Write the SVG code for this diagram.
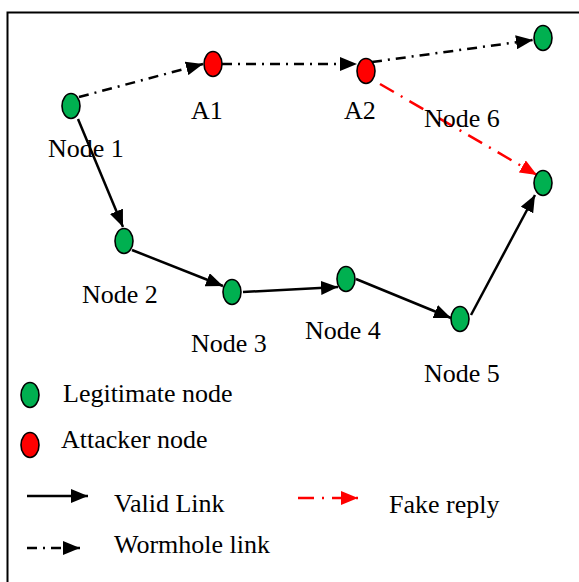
<svg xmlns="http://www.w3.org/2000/svg" width="579" height="582" viewBox="0 0 579 582">
<defs>
<style>
.t{font-family:"Liberation Serif","Times New Roman",serif;font-size:26px;fill:#000}
.g{fill:#00B050;stroke:#000;stroke-width:1.6}
.r{fill:#FF0000;stroke:#000;stroke-width:1.6}
.valid{stroke:#000;stroke-width:2.5;fill:none;marker-end:url(#ab)}
.worm{stroke:#000;stroke-width:2.5;fill:none;stroke-dasharray:10 6 2 6;marker-end:url(#ab)}
.fake{stroke:#FF0000;stroke-width:2.5;fill:none;stroke-dasharray:16 8 2 8;marker-end:url(#ar)}
</style>
<marker id="ab" markerUnits="userSpaceOnUse" markerWidth="17" markerHeight="14" refX="17" refY="7" orient="auto"><path d="M0,0 L17,7 L0,14 z" fill="#000"/></marker>
<marker id="ar" markerUnits="userSpaceOnUse" markerWidth="17" markerHeight="14" refX="17" refY="7" orient="auto"><path d="M0,0 L17,7 L0,14 z" fill="#FF0000"/></marker>
</defs>
<rect x="7.5" y="12.5" width="600" height="600" fill="#fff" stroke="#000" stroke-width="2"/>
<g id="connectors">
<line class="worm" x1="79" y1="97" x2="203" y2="64"/>
<line class="worm" x1="222" y1="64" x2="357" y2="64"/>
<line class="worm" x1="372" y1="62" x2="533" y2="40"/>
<line class="fake" x1="380" y1="84" x2="537" y2="175"/>
<line class="valid" x1="78" y1="119" x2="123" y2="227"/>
<line class="valid" x1="132" y1="250" x2="223" y2="286"/>
<line class="valid" x1="243" y1="292" x2="338" y2="287"/>
<line class="valid" x1="356" y1="279" x2="451" y2="318"/>
<line class="valid" x1="471" y1="315" x2="535" y2="195"/>
</g>
<g id="node1"><ellipse class="g" cx="71" cy="106" rx="9" ry="12.5"/><text class="t" x="48" y="157">Node 1</text></g>
<g id="a1"><ellipse class="r" cx="213" cy="64" rx="9" ry="12.5"/><text class="t" x="191" y="119">A1</text></g>
<g id="a2"><ellipse class="r" cx="366" cy="71" rx="9" ry="12.5"/><text class="t" x="344" y="119">A2</text></g>
<g id="nodeTR"><ellipse class="g" cx="543" cy="38" rx="9" ry="12.5"/></g>
<g id="node6"><ellipse class="g" cx="543" cy="183" rx="9" ry="12.5"/><text class="t" x="424" y="127">Node 6</text></g>
<g id="node2"><ellipse class="g" cx="124" cy="241" rx="9" ry="12.5"/><text class="t" x="82" y="303">Node 2</text></g>
<g id="node3"><ellipse class="g" cx="232" cy="292" rx="9" ry="12.5"/><text class="t" x="191" y="352">Node 3</text></g>
<g id="node4"><ellipse class="g" cx="346" cy="279" rx="9" ry="12.5"/><text class="t" x="305" y="339">Node 4</text></g>
<g id="node5"><ellipse class="g" cx="460" cy="319" rx="9" ry="12.5"/><text class="t" x="424" y="382">Node 5</text></g>
<g id="legend">
<ellipse class="g" cx="30" cy="395" rx="9" ry="12.5"/><text class="t" x="63" y="402">Legitimate node</text>
<ellipse class="r" cx="30" cy="445" rx="9" ry="12.5"/><text class="t" x="61" y="448">Attacker node</text>
<line class="valid" x1="27" y1="496" x2="88" y2="496"/><text class="t" x="114" y="512">Valid Link</text>
<line class="worm" x1="27" y1="548" x2="80" y2="548"/><text class="t" x="114" y="553">Wormhole link</text>
<line class="fake" x1="298" y1="498" x2="358" y2="498"/><text class="t" x="389" y="513">Fake reply</text>
</g>
</svg>
